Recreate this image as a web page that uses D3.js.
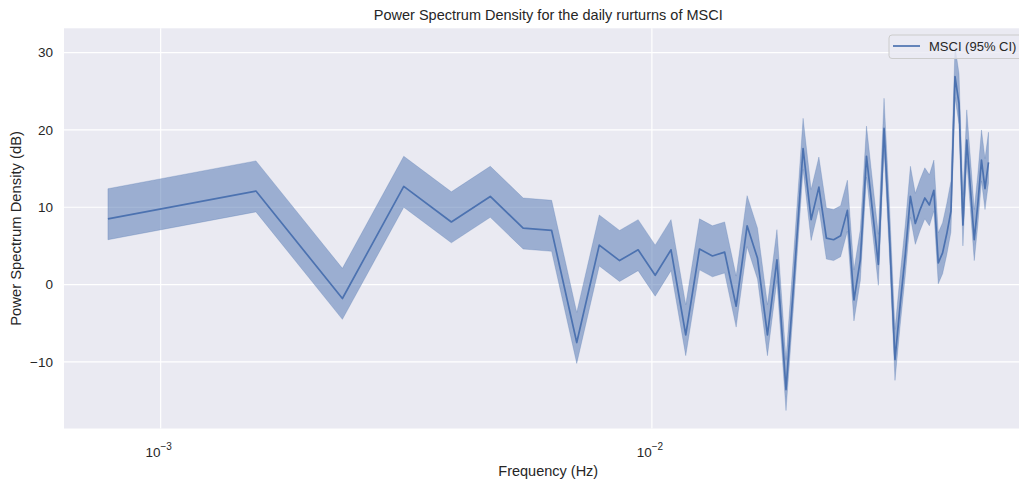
<!DOCTYPE html>
<html>
<head>
<meta charset="utf-8">
<script src="https://cdn.jsdelivr.net/npm/d3@7"></script>
<style>
  body { margin: 0; background: #fff; }
  svg { display: block; font-family: "Liberation Sans", Arial, sans-serif; }
</style>
</head>
<body>
<div id="plot"></div>
<script>
// Frequencies (Hz) of the Welch bins
const frequencies = [
  0.000781, 0.001563, 0.002344, 0.003125, 0.003906, 0.004688, 0.005469, 0.00625,
  0.007031, 0.007813, 0.008594, 0.009375, 0.010156, 0.010938, 0.011719, 0.0125,
  0.013281, 0.014063, 0.014844, 0.015625, 0.016406, 0.017188, 0.017969, 0.01875,
  0.019531, 0.020313, 0.021094, 0.021875, 0.022656, 0.023438, 0.024219, 0.025,
  0.025781, 0.026563, 0.027344, 0.028125, 0.028906, 0.029688, 0.030469, 0.03125,
  0.032031, 0.032813, 0.033594, 0.034375, 0.035156, 0.035938, 0.036719, 0.0375,
  0.038281, 0.039063, 0.039844, 0.040625, 0.041406, 0.042188, 0.042969, 0.04375,
  0.044531, 0.045313, 0.046094, 0.046875, 0.047656, 0.048438
];

// PSD in dB
const psd = [
  8.5, 12.1, -1.8, 12.7, 8.1, 11.4, 7.3, 7.0, -7.5, 5.1,
  3.1, 4.5, 1.2, 4.5, -6.5, 4.6, 3.7, 4.2, -2.8, 7.6,
  3.4, -6.5, 3.2, -13.6, 2.0, 17.6, 8.4, 12.6, 6.0, 5.8,
  6.3, 9.6, -2.0, 3.2, 16.6, 9.5, 2.6, 20.2, 6.1, -9.7,
  -2.5, 4.0, 11.4, 7.9, 9.7, 11.2, 10.3, 12.2, 2.8, 4.1,
  6.6, 9.5, 26.9, 23.4, 7.7, 18.7, 12.2, 5.8, 10.5, 16.1, 12.4, 15.8
];

// 95% confidence band
const ciUpper = [
  12.4, 16.0, 2.1, 16.6, 12.0, 15.3, 11.2, 10.9, -3.6, 9.0,
  7.0, 8.4, 5.1, 8.4, -2.6, 8.5, 7.6, 8.1, 1.1, 11.5,
  7.3, -2.6, 7.1, -9.7, 5.9, 21.5, 12.3, 16.5, 9.9, 9.7,
  10.2, 13.5, 1.9, 7.1, 20.5, 13.4, 6.5, 24.1, 10.0, -5.8,
  1.4, 7.9, 15.3, 11.8, 13.6, 15.1, 14.2, 16.1, 6.7, 8.0,
  10.5, 13.4, 30.8, 27.3, 11.6, 22.6, 16.1, 9.7, 14.4, 20.0, 16.3, 19.7
];
const ciLower = [
  5.8, 9.4, -4.5, 10.0, 5.4, 8.7, 4.6, 4.3, -10.2, 2.4,
  0.4, 1.8, -1.5, 1.8, -9.2, 1.9, 1.0, 1.5, -5.5, 4.9,
  0.7, -9.2, 0.5, -16.3, -0.7, 14.9, 5.7, 9.9, 3.3, 3.1,
  3.6, 6.9, -4.7, 0.5, 13.9, 6.8, -0.1, 17.5, 3.4, -12.4,
  -5.2, 1.3, 8.7, 5.2, 7.0, 8.5, 7.6, 9.5, 0.1, 1.4,
  3.9, 6.8, 24.2, 20.7, 5.0, 16.0, 9.5, 3.1, 7.8, 13.4, 9.7, 13.1
];

const yTicks = [-10, 0, 10, 20, 30];
const xTicks = [0.001, 0.01];
const seriesLabel = "MSCI (95% CI)";

const width = 1019;
const height = 484;
// axes box runs past the right edge of the picture (the figure was cropped)
const margin = { left: 64, top: 28.3, right: 1032.5, bottom: 428.5 };

const data = frequencies.map((f, i) => ({ f: f, v: psd[i], lo: ciLower[i], hi: ciUpper[i] }));

const svg = d3.select("#plot")
  .append("svg")
  .attr("width", width)
  .attr("height", height);

const x = d3.scaleLog()
  .domain([Math.pow(10, -3.1968), Math.pow(10, -1.2252)])
  .range([margin.left, margin.right]);

const y = d3.scaleLinear()
  .domain([-18.62, 33.15])
  .range([margin.bottom, margin.top]);

// Background
svg.append("rect")
  .attr("x", margin.left)
  .attr("y", margin.top)
  .attr("width", margin.right - margin.left)
  .attr("height", margin.bottom - margin.top)
  .attr("fill", "#eaeaf2");

// Grid
svg.append("g")
  .selectAll("line")
  .data(yTicks)
  .enter().append("line")
  .attr("x1", margin.left)
  .attr("x2", margin.right)
  .attr("y1", d => y(d))
  .attr("y2", d => y(d))
  .attr("stroke", "#fff")
  .attr("stroke-width", 1.2);

svg.append("g")
  .selectAll("line")
  .data(xTicks)
  .enter().append("line")
  .attr("x1", d => x(d))
  .attr("x2", d => x(d))
  .attr("y1", margin.top)
  .attr("y2", margin.bottom)
  .attr("stroke", "#fff")
  .attr("stroke-width", 1.2);

// Confidence band
const area = d3.area()
  .x(d => x(d.f))
  .y0(d => y(d.lo))
  .y1(d => y(d.hi));

svg.append("path")
  .datum(data)
  .attr("d", area)
  .attr("fill", "#4c72b0")
  .attr("fill-opacity", 0.5)
  .attr("stroke", "#4c72b0")
  .attr("stroke-opacity", 0.25)
  .attr("stroke-width", 1);

// PSD line
const line = d3.line()
  .x(d => x(d.f))
  .y(d => y(d.v));

svg.append("path")
  .datum(data)
  .attr("d", line)
  .attr("fill", "none")
  .attr("stroke", "#4c72b0")
  .attr("stroke-width", 1.7)
  .attr("stroke-linejoin", "round");

// Y tick labels
svg.append("g")
  .selectAll("text")
  .data(yTicks)
  .enter().append("text")
  .attr("x", margin.left - 11)
  .attr("y", d => y(d))
  .attr("dy", "0.35em")
  .attr("text-anchor", "end")
  .style("font-size", "13.5px")
  .style("fill", "#262626")
  .text(d => d < 0 ? "\u2212" + Math.abs(d) : d);

// X tick labels (10^n)
const xLab = svg.append("g")
  .selectAll("text")
  .data(xTicks)
  .enter().append("text")
  .attr("x", d => x(d) - 2)
  .attr("y", 457)
  .attr("text-anchor", "middle")
  .style("font-size", "13.5px")
  .style("fill", "#262626");

xLab.append("tspan").text("10");
xLab.append("tspan")
  .attr("dy", -7)
  .style("font-size", "10px")
  .text(d => "\u2212" + Math.round(-Math.log10(d)));

// Title and axis labels
svg.append("text")
  .attr("x", (margin.left + margin.right) / 2)
  .attr("y", 20)
  .attr("text-anchor", "middle")
  .style("font-size", "14.5px")
  .style("fill", "#262626")
  .text("Power Spectrum Density for the daily rurturns of MSCI");

svg.append("text")
  .attr("x", (margin.left + margin.right) / 2)
  .attr("y", 476)
  .attr("text-anchor", "middle")
  .style("font-size", "14.5px")
  .style("fill", "#262626")
  .text("Frequency (Hz)");

svg.append("text")
  .attr("transform", `translate(21, ${(margin.top + margin.bottom) / 2}) rotate(-90)`)
  .attr("text-anchor", "middle")
  .style("font-size", "14.8px")
  .style("fill", "#262626")
  .text("Power Spectrum Density (dB)");

// Legend
const legend = svg.append("g")
  .attr("transform", "translate(889, 35)");

legend.append("rect")
  .attr("width", 140)
  .attr("height", 23.5)
  .attr("rx", 3)
  .attr("fill", "#eaeaf2")
  .attr("fill-opacity", 0.8)
  .attr("stroke", "#cccccc");

legend.append("line")
  .attr("x1", 4)
  .attr("x2", 31)
  .attr("y1", 11)
  .attr("y2", 11)
  .attr("stroke", "#4c72b0")
  .attr("stroke-width", 1.7);

legend.append("text")
  .attr("x", 40)
  .attr("y", 11)
  .attr("dy", "0.35em")
  .style("font-size", "13px")
  .style("fill", "#262626")
  .text(seriesLabel);
</script>
</body>
</html>
